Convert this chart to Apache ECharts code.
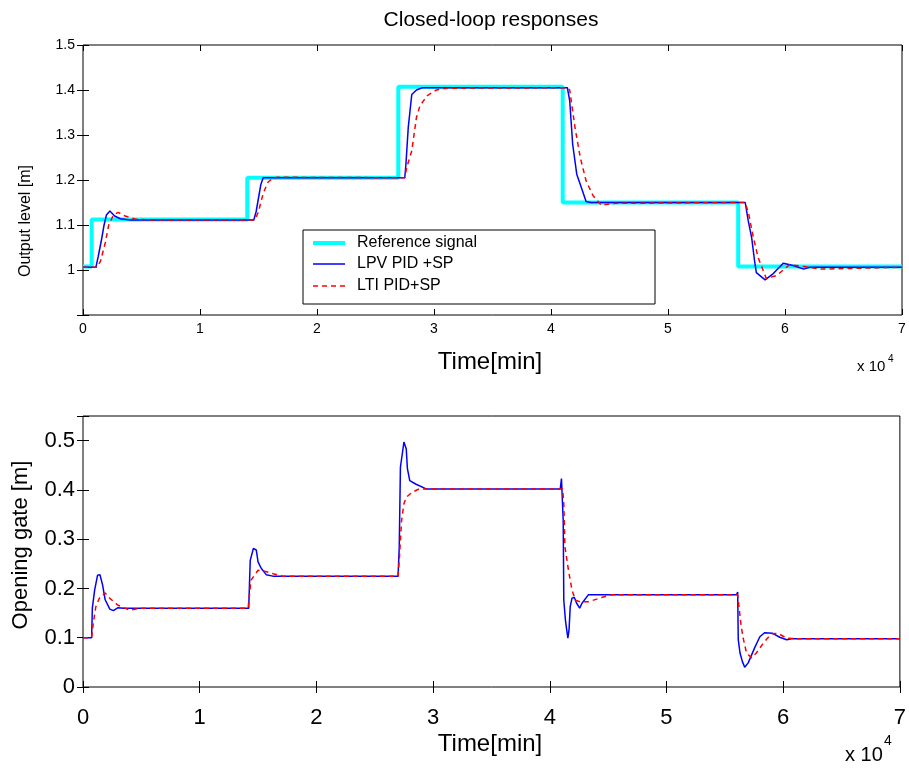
<!DOCTYPE html>
<html>
<head>
<meta charset="utf-8">
<script src="https://cdn.jsdelivr.net/npm/echarts@6/dist/echarts.min.js"></script>
<style>
html,body{margin:0;padding:0;background:#fff;}
#chart{width:909px;height:773px;}
</style>
</head>
<body>
<div id="chart"></div>
<script>
// ---- data (time in units of 10^4 min) ----
var xTicks = [0, 1, 2, 3, 4, 5, 6, 7];
var topYTicks = [1, 1.1, 1.2, 1.3, 1.4, 1.5];
var botYTicks = [0, 0.1, 0.2, 0.3, 0.4, 0.5];

// Reference signal (step at each time, holds level until next time)
var refT = [0, 0.074, 1.404, 2.695, 4.10, 5.60, 7];
var refY = [1.008, 1.112, 1.205, 1.407, 1.150, 1.008, 1.008];

// Output level - LPV PID +SP
var lpvTopT = [0, 0.11, 0.13, 0.16, 0.18, 0.20, 0.23, 0.27, 0.32, 0.40, 1.46, 1.48, 1.50, 1.52, 1.54, 2.75, 2.76, 2.78, 2.81, 2.85, 2.90, 4.14, 4.16, 4.185, 4.22, 4.26, 4.30, 4.34, 5.66, 5.686, 5.715, 5.74, 5.755, 5.83, 5.90, 5.985, 6.07, 6.16, 6.21, 7];
var lpvTopY = [1.006, 1.006, 1.03, 1.07, 1.10, 1.122, 1.131, 1.12, 1.114, 1.111, 1.111, 1.13, 1.16, 1.19, 1.205, 1.205, 1.235, 1.317, 1.39, 1.40, 1.405, 1.405, 1.376, 1.28, 1.213, 1.183, 1.152, 1.150, 1.150, 1.109, 1.072, 1.02, 0.994, 0.978, 0.992, 1.015, 1.010, 1.002, 1.006, 1.006];

// Output level - LTI PID+SP
var ltiTopT = [0, 0.12, 0.15, 0.19, 0.22, 0.26, 0.30, 0.36, 0.45, 0.60, 1.47, 1.50, 1.54, 1.58, 1.62, 1.66, 2.75, 2.767, 2.81, 2.85, 2.88, 2.94, 3.02, 3.11, 4.14, 4.16, 4.205, 4.25, 4.30, 4.36, 4.43, 4.53, 5.66, 5.69, 5.73, 5.77, 5.84, 5.93, 6.04, 6.18, 6.31, 7];
var ltiTopY = [1.006, 1.006, 1.02, 1.06, 1.10, 1.122, 1.128, 1.12, 1.113, 1.111, 1.111, 1.13, 1.17, 1.195, 1.203, 1.206, 1.205, 1.228, 1.265, 1.339, 1.365, 1.387, 1.400, 1.404, 1.405, 1.40, 1.317, 1.25, 1.198, 1.165, 1.144, 1.148, 1.150, 1.124, 1.072, 1.028, 0.981, 0.988, 1.012, 1.007, 1.002, 1.006];

// Opening gate - LPV PID +SP
var lpvBotT = [0, 0.074, 0.08, 0.10, 0.125, 0.145, 0.168, 0.19, 0.23, 0.26, 0.30, 0.35, 1.42, 1.425, 1.433, 1.46, 1.485, 1.50, 1.527, 1.57, 1.627, 2.70, 2.71, 2.72, 2.74, 2.75, 2.77, 2.78, 2.80, 2.85, 2.94, 4.09, 4.10, 4.115, 4.12, 4.135, 4.155, 4.165, 4.175, 4.19, 4.21, 4.23, 4.256, 4.276, 4.33, 5.60, 5.61, 5.615, 5.63, 5.65, 5.67, 5.70, 5.76, 5.80, 5.84, 5.91, 5.97, 6.03, 6.07, 7];
var lpvBotY = [0.10, 0.10, 0.16, 0.197, 0.227, 0.228, 0.207, 0.177, 0.158, 0.155, 0.161, 0.16, 0.16, 0.197, 0.257, 0.281, 0.278, 0.254, 0.241, 0.228, 0.225, 0.225, 0.284, 0.446, 0.48, 0.497, 0.483, 0.443, 0.419, 0.412, 0.402, 0.402, 0.423, 0.338, 0.176, 0.133, 0.099, 0.116, 0.163, 0.18, 0.182, 0.17, 0.16, 0.17, 0.187, 0.187, 0.193, 0.096, 0.069, 0.052, 0.04, 0.049, 0.082, 0.102, 0.11, 0.109, 0.101, 0.096, 0.098, 0.098];

// Opening gate - LTI PID+SP
var ltiBotT = [0, 0.074, 0.088, 0.11, 0.14, 0.19, 0.23, 0.30, 0.40, 0.49, 1.415, 1.42, 1.44, 1.50, 1.556, 1.63, 1.71, 2.70, 2.71, 2.73, 2.75, 2.77, 2.82, 2.88, 4.11, 4.12, 4.13, 4.16, 4.19, 4.22, 4.26, 4.33, 4.45, 4.53, 5.61, 5.615, 5.64, 5.66, 5.686, 5.73, 5.77, 5.83, 5.90, 5.955, 6.03, 6.10, 7];
var ltiBotY = [0.10, 0.10, 0.129, 0.163, 0.18, 0.191, 0.18, 0.166, 0.156, 0.16, 0.16, 0.173, 0.217, 0.237, 0.235, 0.23, 0.225, 0.225, 0.257, 0.338, 0.372, 0.385, 0.395, 0.402, 0.402, 0.372, 0.284, 0.237, 0.197, 0.176, 0.173, 0.173, 0.182, 0.187, 0.187, 0.176, 0.123, 0.096, 0.069, 0.059, 0.069, 0.089, 0.108, 0.109, 0.099, 0.098, 0.098];

var seriesNames = ['Reference signal', 'LPV PID +SP', 'LTI PID+SP'];
var titleText = 'Closed-loop responses';
var topYLabel = 'Output level [m]';
var botYLabel = 'Opening gate [m]';
var xLabel = 'Time[min]';

function zip(a, b) { return a.map(function (v, i) { return [v, b[i]]; }); }
function inTicks(list, v) {
  for (var i = 0; i < list.length; i++) if (Math.abs(list[i] - v) < 1e-6) return true;
  return false;
}
function fmtNum(v) {
  var r = Math.round(v * 10) / 10;
  return (Math.abs(r - Math.round(r)) < 1e-9) ? String(Math.round(r)) : r.toFixed(1);
}

var FONT = '"Liberation Sans", Arial, sans-serif';
var COLORS = ['#00FFFF', '#0000FF', '#FF0000'];

var chart = echarts.init(document.getElementById('chart'), null, { renderer: 'canvas' });

var G0 = { left: 83, right: 7, top: 45, height: 270 };
var G1 = { left: 83, right: 7, top: 416, height: 271 };

function xAxisDef(gridIndex, pos, showLabels, fontSize, margin) {
  return {
    type: 'value', gridIndex: gridIndex, position: pos, min: 0, max: 7, interval: 1,
    axisLine: { show: false },
    axisTick: { show: true, inside: true, length: 6, lineStyle: { color: '#000', width: 1 } },
    splitLine: { show: false },
    axisLabel: {
      show: showLabels, color: '#000', fontFamily: FONT, fontSize: fontSize, margin: margin,
      formatter: function (v) { return inTicks(xTicks, v) ? String(v) : ''; }
    }
  };
}
function yAxisDef(gridIndex, pos, min, max, ticks, showLabels, fontSize) {
  return {
    type: 'value', gridIndex: gridIndex, position: pos, min: min, max: max, interval: 0.1,
    axisLine: { show: false },
    axisTick: { show: true, inside: true, length: 6, lineStyle: { color: '#000', width: 1 } },
    splitLine: { show: false },
    axisLabel: {
      show: showLabels, color: '#000', fontFamily: FONT, fontSize: fontSize, margin: 8,
      showMinLabel: true, showMaxLabel: true,
      formatter: function (v) { return inTicks(ticks, v) ? fmtNum(v) : ''; }
    }
  };
}

// Legend box (drawn manually to match the original's line samples)
var LG = { x: 303, y: 230, w: 352, h: 74, lineX0: 313, lineX1: 345, textX: 357, rows: [243, 264, 286] };
var legendGraphics = [
  { type: 'rect', z: 50, shape: { x: LG.x, y: LG.y, width: LG.w, height: LG.h },
    style: { fill: '#fff', stroke: '#000', lineWidth: 1 } },
  { type: 'line', z: 51, shape: { x1: LG.lineX0, y1: LG.rows[0], x2: LG.lineX1, y2: LG.rows[0] },
    style: { stroke: COLORS[0], lineWidth: 4 } },
  { type: 'line', z: 51, shape: { x1: LG.lineX0, y1: LG.rows[1], x2: LG.lineX1, y2: LG.rows[1] },
    style: { stroke: COLORS[1], lineWidth: 1.5 } },
  { type: 'line', z: 51, shape: { x1: LG.lineX0, y1: LG.rows[2], x2: LG.lineX1, y2: LG.rows[2] },
    style: { stroke: COLORS[2], lineWidth: 1.5, lineDash: [5, 4] } }
];
seriesNames.forEach(function (n, i) {
  legendGraphics.push({ type: 'text', z: 51, x: LG.textX, y: LG.rows[i],
    style: { text: n, font: '16px ' + FONT, fill: '#000', align: 'left', verticalAlign: 'middle' } });
});

var option = {
  backgroundColor: '#fff',
  animation: false,
  grid: [
    Object.assign({ show: true, borderColor: '#000', borderWidth: 1, backgroundColor: '#fff' }, G0),
    Object.assign({ show: true, borderColor: '#000', borderWidth: 1, backgroundColor: '#fff' }, G1)
  ],
  xAxis: [
    xAxisDef(0, 'bottom', true, 14, 7),
    xAxisDef(0, 'top', false, 14, 7),
    xAxisDef(1, 'bottom', true, 22, 20),
    xAxisDef(1, 'top', false, 22, 20)
  ],
  yAxis: [
    yAxisDef(0, 'left', 0.9, 1.5, topYTicks, true, 14),
    yAxisDef(0, 'right', 0.9, 1.5, topYTicks, false, 14),
    yAxisDef(1, 'left', 0, 0.55, botYTicks, true, 22),
    yAxisDef(1, 'right', 0, 0.55, botYTicks, false, 22)
  ],
  series: [
    {
      name: seriesNames[0], type: 'line', xAxisIndex: 0, yAxisIndex: 0, step: 'end',
      symbol: 'none', data: zip(refT, refY),
      lineStyle: { color: COLORS[0], width: 4 }, itemStyle: { color: COLORS[0] }
    },
    {
      name: seriesNames[1], type: 'line', xAxisIndex: 0, yAxisIndex: 0,
      symbol: 'none', data: zip(lpvTopT, lpvTopY),
      lineStyle: { color: COLORS[1], width: 1.5 }, itemStyle: { color: COLORS[1] }
    },
    {
      name: seriesNames[2], type: 'line', xAxisIndex: 0, yAxisIndex: 0,
      symbol: 'none', data: zip(ltiTopT, ltiTopY),
      lineStyle: { color: COLORS[2], width: 1.5, type: [5, 4] }, itemStyle: { color: COLORS[2] }
    },
    {
      name: seriesNames[1] + ' (gate)', type: 'line', xAxisIndex: 2, yAxisIndex: 2,
      symbol: 'none', data: zip(lpvBotT, lpvBotY),
      lineStyle: { color: COLORS[1], width: 1.5 }, itemStyle: { color: COLORS[1] }
    },
    {
      name: seriesNames[2] + ' (gate)', type: 'line', xAxisIndex: 2, yAxisIndex: 2,
      symbol: 'none', data: zip(ltiBotT, ltiBotY),
      lineStyle: { color: COLORS[2], width: 1.5, type: [5, 4] }, itemStyle: { color: COLORS[2] }
    }
  ],
  graphic: legendGraphics.concat([
    { type: 'text', x: 491, y: 20, z: 50,
      style: { text: titleText, font: '21px ' + FONT, fill: '#000', align: 'center', verticalAlign: 'middle' } },
    { type: 'text', x: 26, y: 221, rotation: Math.PI / 2, z: 50,
      style: { text: topYLabel, font: '16px ' + FONT, fill: '#000', align: 'center', verticalAlign: 'middle' } },
    { type: 'text', x: 490, y: 362, z: 50,
      style: { text: xLabel, font: '24px ' + FONT, fill: '#000', align: 'center', verticalAlign: 'middle' } },
    { type: 'text', x: 857, y: 367, z: 50,
      style: { text: 'x 10', font: '15px ' + FONT, fill: '#000', align: 'left', verticalAlign: 'middle' } },
    { type: 'text', x: 888, y: 359, z: 50,
      style: { text: '4', font: '10px ' + FONT, fill: '#000', align: 'left', verticalAlign: 'middle' } },
    { type: 'text', x: 21, y: 545, rotation: Math.PI / 2, z: 50,
      style: { text: botYLabel, font: '22px ' + FONT, fill: '#000', align: 'center', verticalAlign: 'middle' } },
    { type: 'text', x: 490, y: 744, z: 50,
      style: { text: xLabel, font: '24px ' + FONT, fill: '#000', align: 'center', verticalAlign: 'middle' } },
    { type: 'text', x: 845, y: 755, z: 50,
      style: { text: 'x 10', font: '20px ' + FONT, fill: '#000', align: 'left', verticalAlign: 'middle' } },
    { type: 'text', x: 884, y: 741, z: 50,
      style: { text: '4', font: '14px ' + FONT, fill: '#000', align: 'left', verticalAlign: 'middle' } }
  ])
};
chart.setOption(option);
</script>
</body>
</html>
